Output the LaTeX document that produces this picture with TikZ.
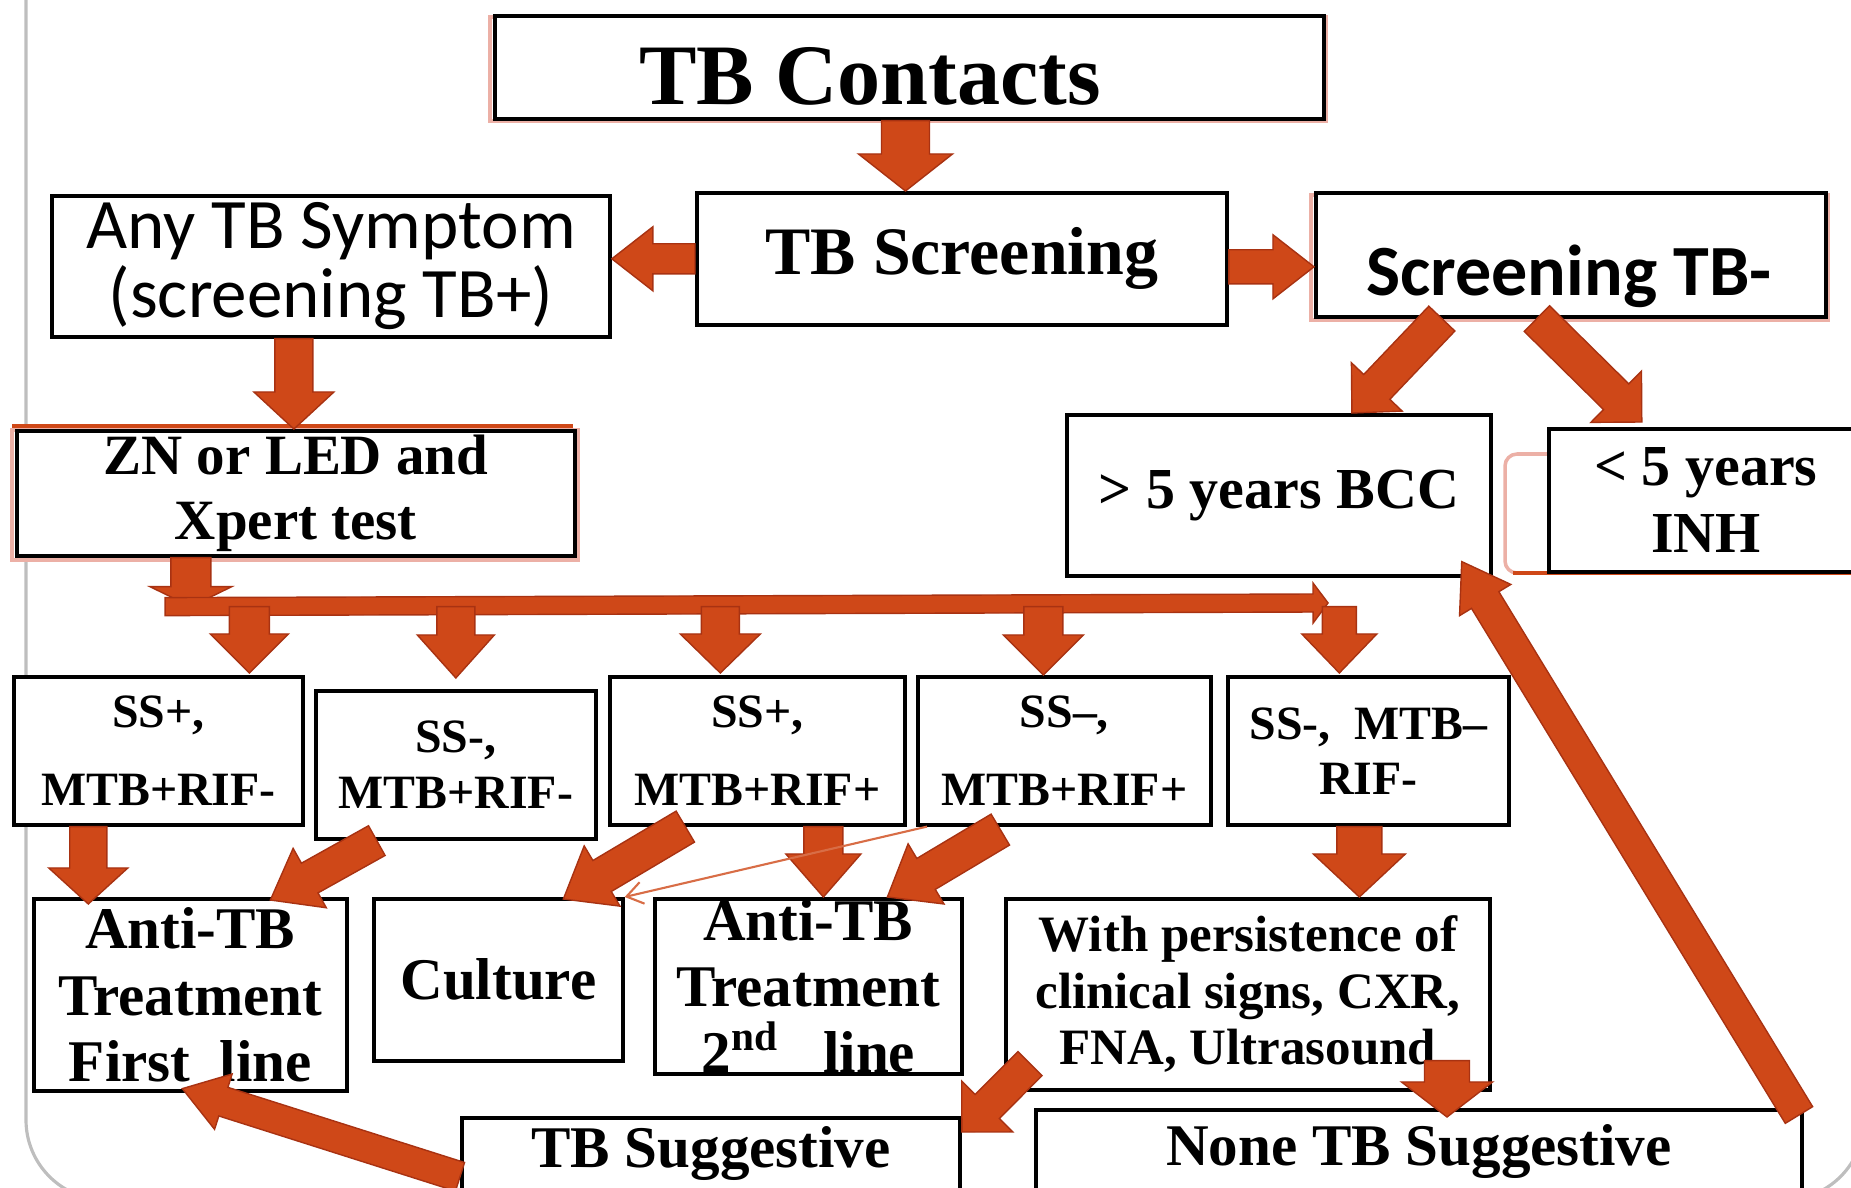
\documentclass[tikz,border=0pt]{standalone}
\usepackage{fontspec}
\setmainfont{Liberation Serif}
\newfontfamily\calibri{Carlito}
\usetikzlibrary{calc,arrows.meta}
\definecolor{tbred}{RGB}{207,72,24}
\definecolor{tbdark}{RGB}{168,50,18}
\definecolor{ghostred}{RGB}{236,176,166}
\definecolor{framegray}{RGB}{190,190,190}
\newcommand{\schrift}[2]{\fontsize{#1}{#2}\selectfont\bfseries}

\begin{document}
\begin{tikzpicture}[x=0.01cm,y=-0.01cm,
  box/.style={draw,fill=white,line width=1pt,inner sep=0pt,anchor=north west,align=center},
  arr/.style={fill=tbred,draw=tbdark,line width=0.4pt,line join=miter},
  ghost/.style={draw=ghostred,line width=1pt}]

\useasboundingbox (0,0) rectangle (1851,1188);
\clip (0,0) rectangle (1851,1188);
\draw[framegray,line width=0.9pt,rounded corners=0.8cm] (26,-100) rectangle (1864,1200);

% block arrow: from, to, half shaft, half head, head length
\def\pfeil#1#2#3#4#5{
	\coordinate (hb) at ($#2!#5!#1$);
	\filldraw[arr] ($#1!#3!90:#2$) -- ($(hb)!#3!90:#2$) -- ($(hb)!#4!90:#2$) -- #2
		-- ($(hb)!#4!-90:#2$) -- ($(hb)!#3!-90:#2$) -- ($#1!#3!-90:#2$) -- cycle;
}

\draw[ghost] (490,17) rectangle (1326,121);
\draw[ghost] (1311,195) rectangle (1828,320);
\draw[ghost] (12,430) rectangle (578,560);
\draw[tbred,line width=1pt] (12,426) -- (573,426);
\draw[ghost,rounded corners=0.12cm] (1900,454) -- (1505,454) -- (1505,573) -- (1900,573);
\draw[tbred,line width=1pt] (1513,573) -- (1851,573);

\node[box,minimum width=8.29cm,minimum height=1.03cm] (contacts) at (493,14) {};
\node[font=\schrift{24.5}{28},anchor=base] (contacts-t) at (870,105) {TB Contacts};
\node[box,minimum width=5.30cm,minimum height=1.32cm,font=\schrift{19.3}{22}] (screening) at (695,191) {TB Screening};
\node[box,minimum width=5.58cm,minimum height=1.41cm,font={\calibri\fontsize{20.2}{19.6}\selectfont}] (symptom) at (50,194) {Any TB Symptom\\(screening TB+)};
\node[box,minimum width=5.10cm,minimum height=1.24cm] (scrneg) at (1314,191) {};
\node[font={\calibri\fontsize{20.5}{24}\selectfont\bfseries},anchor=base] (scrneg-t) at (1569,295) {Screening TB-};
\node[box,minimum width=4.24cm,minimum height=1.61cm,font=\schrift{16.5}{19}] (bcc) at (1065,413) {> 5 years BCC};
\node[box,minimum width=3.14cm,minimum height=1.43cm,font=\schrift{16.5}{19}] (inh) at (1547,427) {< 5 years\\INH};
\node[box,minimum width=5.58cm,minimum height=1.25cm,font=\schrift{16.2}{18.5}] (zn) at (15,429) {ZN or LED and\\Xpert test};

\node[box,minimum width=2.89cm,minimum height=1.48cm,font=\schrift{13.6}{22.2}] (b1) at (12,675) {SS+,\\MTB+RIF-};
\node[box,minimum width=2.80cm,minimum height=1.48cm,font=\schrift{13.6}{15.9}] (b2) at (314,689) {SS-,\\MTB+RIF-};
\node[box,minimum width=2.95cm,minimum height=1.48cm,font=\schrift{13.6}{22.2}] (b3) at (608,675) {SS+,\\MTB+RIF+};
\node[box,minimum width=2.93cm,minimum height=1.48cm,font=\schrift{13.6}{22.2}] (b4) at (916,675) {SS–,\\MTB+RIF+};
\node[box,minimum width=2.81cm,minimum height=1.48cm,font=\schrift{13.6}{15.6}] (b5) at (1226,675) {SS-,\ \ MTB–\\RIF-};

\node[box,minimum width=3.13cm,minimum height=1.92cm,font=\schrift{16.8}{18.8}] (first) at (32,897) {Anti-TB\\Treatment\\First\ \ line};
\node[box,minimum width=2.49cm,minimum height=1.62cm,font=\schrift{16.8}{18.8}] (culture) at (372,897) {Culture};
\node[box,minimum width=3.07cm,minimum height=1.75cm,inner ysep=-2pt,font=\schrift{16.8}{18.8}] (second) at (653,897) {Anti-TB\\Treatment\\2\textsuperscript{nd}\ \ \ line};
\node[box,minimum width=4.84cm,minimum height=1.91cm,font=\schrift{14.5}{16.1}] (persist) at (1004,897) {With persistence of\\clinical signs, CXR,\\FNA, Ultrasound};
\node[box,minimum width=4.98cm,minimum height=1.00cm,text height=0.36cm,text depth=0.36cm,font=\schrift{16.8}{20}] (tbsugg) at (460,1116) {TB Suggestive};
\node[box,minimum width=7.66cm,minimum height=1.00cm,text height=0.42cm,text depth=0.30cm,font=\schrift{16.8}{20}] (none) at (1034,1108) {None TB Suggestive};

% top part
\coordinate (p1) at ([xshift=-0.04cm]contacts.south);
\coordinate (q1) at (p1 |- screening.north);
\pfeil{(p1)}{(q1)}{0.24cm}{0.47cm}{0.37cm}
\coordinate (q2) at (symptom.east |- screening.west);
\pfeil{(screening.west)}{(q2)}{0.15cm}{0.32cm}{0.41cm}
\coordinate (p3) at ([yshift=-0.08cm]screening.east);
\coordinate (q3) at (scrneg.west |- p3);
\pfeil{(p3)}{(q3)}{0.17cm}{0.32cm}{0.41cm}
\coordinate (p4) at ([xshift=-0.37cm]symptom.south);
\coordinate (q4) at (p4 |- zn.north);
\pfeil{(p4)}{(q4)}{0.19cm}{0.40cm}{0.37cm}
\coordinate (p5) at ([xshift=-1.29cm]scrneg.south);
\coordinate (q5) at ([xshift=0.73cm]bcc.north);
\pfeil{(p5)}{(q5)}{0.18cm}{0.35cm}{0.36cm}
\coordinate (p6) at ([xshift=-0.34cm]scrneg.south);
\coordinate (q6) at ([xshift=-0.64cm,yshift=0.05cm]inh.north);
\pfeil{(p6)}{(q6)}{0.18cm}{0.36cm}{0.36cm}

% bar
\coordinate (p7) at ([xshift=-1.05cm]zn.south);
\coordinate (bar-w) at ([xshift=1.50cm,yshift=-0.49cm]zn.south west);
\coordinate (bar-e) at ([xshift=1.02cm,yshift=0.72cm]b5.north west);
\coordinate (q7) at (p7 |- bar-w);
\pfeil{(p7)}{(q7)}{0.20cm}{0.41cm}{0.20cm}
\pfeil{(bar-w)}{(bar-e)}{0.09cm}{0.20cm}{0.15cm}
\coordinate (q8) at ([xshift=0.91cm,yshift=0.02cm]b1.north);
\coordinate (p8) at (q8 |- bar-w);
\pfeil{(p8)}{(q8)}{0.20cm}{0.39cm}{0.39cm}
\coordinate (q9) at ([yshift=0.11cm]b2.north);
\coordinate (p9) at (q9 |- bar-w);
\pfeil{(p9)}{(q9)}{0.19cm}{0.385cm}{0.43cm}
\coordinate (q10) at ([xshift=-0.37cm,yshift=0.02cm]b3.north);
\coordinate (p10) at (q10 |- bar-w);
\pfeil{(p10)}{(q10)}{0.19cm}{0.40cm}{0.39cm}
\coordinate (q11) at ([xshift=-0.21cm]b4.north);
\coordinate (p11) at (q11 |- bar-w);
\pfeil{(p11)}{(q11)}{0.195cm}{0.40cm}{0.40cm}
\coordinate (q12) at ([xshift=-0.29cm,yshift=0.02cm]b5.north);
\coordinate (p12) at (q12 |- bar-w);
\pfeil{(p12)}{(q12)}{0.17cm}{0.375cm}{0.39cm}

% lower part
\coordinate (p13) at ([xshift=-0.70cm]b1.south);
\coordinate (q13) at ($(p13 |- first.north)+(0,7)$);
\pfeil{(p13)}{(q13)}{0.185cm}{0.395cm}{0.36cm}
\coordinate (p14) at ([xshift=-0.79cm]b2.south);
\coordinate (q14) at ([xshift=0.80cm,yshift=-0.03cm]first.north);
\pfeil{(p14)}{(q14)}{0.17cm}{0.34cm}{0.45cm}
\coordinate (p15) at ([xshift=-0.72cm]b3.south);
\coordinate (q15) at ([xshift=0.65cm,yshift=-0.02cm]culture.north);
\pfeil{(p15)}{(q15)}{0.18cm}{0.35cm}{0.45cm}
\coordinate (p16) at ([xshift=0.66cm]b3.south);
\coordinate (q16) at (p16 |- second.north);
\pfeil{(p16)}{(q16)}{0.195cm}{0.375cm}{0.43cm}
\coordinate (p17) at ([xshift=-0.64cm,yshift=-0.03cm]b4.south);
\coordinate (q17) at ([xshift=0.79cm]second.north);
\pfeil{(p17)}{(q17)}{0.18cm}{0.35cm}{0.45cm}
\coordinate (p18) at ([xshift=-0.09cm]b5.south);
\coordinate (q18) at (p18 |- persist.north);
\pfeil{(p18)}{(q18)}{0.225cm}{0.46cm}{0.43cm}
\coordinate (p19) at ([xshift=0.26cm,yshift=0.28cm]persist.south west);
\coordinate (q19) at ([yshift=-0.16cm]tbsugg.north east);
\pfeil{(p19)}{(q19)}{0.17cm}{0.36cm}{0.36cm}
\coordinate (p20) at ([xshift=1.99cm,yshift=0.31cm]persist.south);
\coordinate (q20) at ($(p20 |- none.north)+(0,9)$);
\pfeil{(p20)}{(q20)}{0.225cm}{0.455cm}{0.35cm}
\coordinate (p21) at ([yshift=-0.09cm]tbsugg.west);
\coordinate (q21) at ([xshift=-0.08cm,yshift=0.04cm]first.south);
\pfeil{(p21)}{(q21)}{0.15cm}{0.29cm}{0.43cm}
\coordinate (p22) at ([xshift=-0.05cm,yshift=-0.07cm]none.north east);
\coordinate (q22) at ([xshift=-0.31cm,yshift=0.16cm]bcc.south east);
\pfeil{(p22)}{(q22)}{0.16cm}{0.30cm}{0.45cm}

\coordinate (p23) at ([xshift=0.11cm]b4.south west);
\draw[tbred!80,line width=0.6pt,-{Straight Barb[length=0.16cm,width=0.22cm]}] (p23) -- (culture.north east);

\end{tikzpicture}
\end{document}
